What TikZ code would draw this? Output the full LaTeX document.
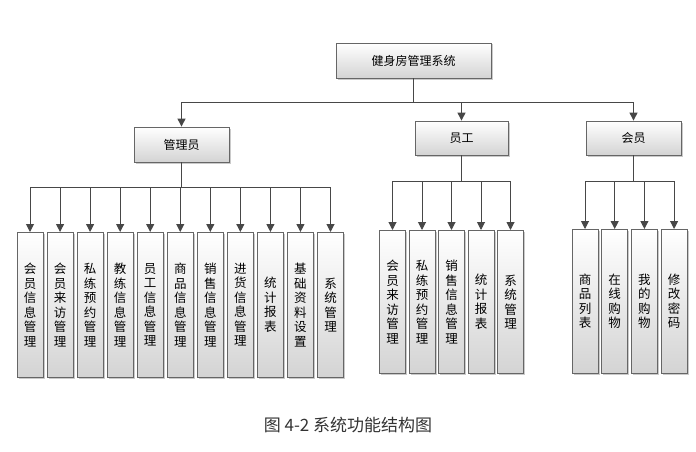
\documentclass[tikz,border=0pt]{standalone}
\usepackage{fontspec}
\setmainfont{Noto Sans CJK SC}
\usetikzlibrary{positioning,arrows.meta,shadows}
\tikzset{
  >={Triangle[length=8pt,width=8pt]},
  box/.style={draw=black!60,line width=0.8pt,top color=white,bottom color=black!17,
    inner sep=0pt,drop shadow={shadow xshift=1.5pt,shadow yshift=-1.5pt,fill=black!35,opacity=0.6}},
  topbox/.style={box,minimum width=95pt,minimum height=35pt,font=\fontsize{12}{14}\selectfont},
  subbox/.style={box,anchor=north,minimum width=26pt,minimum height=145pt,align=center,
    font=\fontsize{12.5}{14.5}\selectfont},
  link/.style={black!72,line width=1pt},
  flow/.style={link,->},
  caplbl/.style={font=\fontsize{17}{17}\selectfont,text=black!80},
}
\begin{document}
\begin{tikzpicture}[x=1pt,y=-1pt]
  \useasboundingbox (0,0) rectangle (696,452);
  \node[topbox,minimum width=155pt] (sys) at (413.5,60.5) {健身房管理系统};
  \node[topbox] (adm) at (181.5,144.5) {管理员};
  \node[topbox,minimum width=93pt,minimum height=34pt] (stf) at (461.5,138) {员工};
  \node[topbox,minimum height=34pt] (mem) at (633.5,138) {会员};
  \draw[flow] (sys.south) -- ++(0,24) -| (adm.north);
  \draw[flow] (sys.south) -- ++(0,24) -| (stf.north);
  \draw[flow] (sys.south) -- ++(0,24) -| (mem.north);
  \foreach \lab [count=\i] in {{会\\员\\信\\息\\管\\理},{会\\员\\来\\访\\管\\理},
      {私\\练\\预\\约\\管\\理},{教\\练\\信\\息\\管\\理},{员\\工\\信\\息\\管\\理},
      {商\\品\\信\\息\\管\\理},{销\\售\\信\\息\\管\\理},{进\\货\\信\\息\\管\\理},
      {统\\计\\报\\表},{基\\础\\资\\料\\设\\置},{系\\统\\管\\理}} {
    \node[subbox] (a\i) at ({30+30.05*(\i-1)},232) {\lab};
    \draw[flow] (adm.south) -- ++(0,25) -| (a\i.north);
  }
  \foreach \lab [count=\i] in {{会\\员\\来\\访\\管\\理},{私\\练\\预\\约\\管\\理},
      {销\\售\\信\\息\\管\\理},{统\\计\\报\\表},{系\\统\\管\\理}} {
    \node[subbox,minimum height=143pt] (s\i) at ({392.5+29.5*(\i-1)},230) {\lab};
    \draw[flow] (stf.south) -- ++(0,26) -| (s\i.north);
  }
  \foreach \lab [count=\i] in {{商\\品\\列\\表},{在\\线\\购\\物},{我\\的\\购\\物},
      {修\\改\\密\\码}} {
    \node[subbox,minimum height=144pt] (m\i) at ({585+29.7*(\i-1)},229) {\lab};
    \draw[flow] (mem.south) -- ++(0,26) -| (m\i.north);
  }
  \node[caplbl] (cap) at (348,425) {图 4-2 系统功能结构图};
\end{tikzpicture}
\end{document}
